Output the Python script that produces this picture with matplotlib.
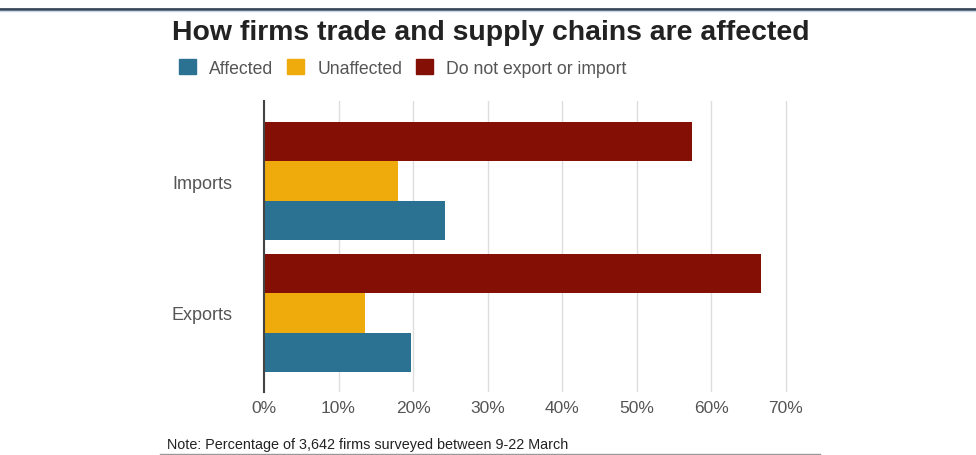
import matplotlib.pyplot as plt
from matplotlib.lines import Line2D
import numpy as np

plt.rcParams['font.family'] = ['Liberation Sans', 'DejaVu Sans']

# Données
categories = ['Exports', 'Imports']
series = ['Affected', 'Unaffected', 'Do not export or import']
affected = [19.7, 24.3]
unaffected = [13.6, 18.0]
no_trade = [66.7, 57.4]
colors = ['#2b7192', '#efab0c', '#830f05']
ticks = [0, 10, 20, 30, 40, 50, 60, 70]
tick_labels = [f'{t}%' for t in ticks]

fig = plt.figure(figsize=(9.76, 4.56), dpi=100)
ax = fig.add_axes([0.2705, 0.138, 0.542, 0.638])

y = np.arange(len(categories))
h = 0.3
for vals, off, c, lab in zip([affected, unaffected, no_trade], [-h, 0, h], colors, series):
    ax.barh(y + off, vals, height=h, color=c, label=lab, zorder=3)

ax.set_xlim(0, 71)
ax.set_ylim(-0.6, 1.606)
ax.set_xticks(ticks)
ax.set_xticklabels(tick_labels, fontsize=12.5, color='#555555')
ax.set_yticks(y)
ax.set_yticklabels(categories, fontsize=13, color='#555555')
ax.tick_params(axis='y', length=0, pad=23)
ax.tick_params(axis='x', length=0, pad=6)
ax.grid(axis='x', color='#dddddd', linewidth=1, zorder=0)
for s in ['top', 'right', 'bottom']:
    ax.spines[s].set_visible(False)
ax.spines['left'].set_color('#444444')
ax.spines['left'].set_linewidth(1.5)
ax.spines['left'].set_zorder(4)

fig.text(0.176, 0.928, 'How firms trade and supply chains are affected',
         fontsize=20.4, fontweight='bold', color='#222222', va='center')

# légende
handles = [plt.Rectangle((0, 0), 1, 1, color=c) for c in colors]
fig.legend(handles, series, loc='center left', bbox_to_anchor=(0.176, 0.849),
           ncol=3, frameon=False, fontsize=12.7, handlelength=0.95, handleheight=0.95,
           handletextpad=0.75, columnspacing=0.8, labelcolor='#555555', borderaxespad=0)

fig.text(0.171, 0.024, 'Note: Percentage of 3,642 firms surveyed between 9-22 March',
         fontsize=10.4, color='#222222', va='center')

# lignes de cadre
fig.add_artist(Line2D([0, 1], [0.979, 0.979], color='#38485a', linewidth=2))
fig.add_artist(Line2D([0, 1], [0.973, 0.973], color='#c9d9ea', linewidth=1))
fig.add_artist(Line2D([0.164, 0.84], [0.002, 0.002], color='#999999', linewidth=1))

fig.savefig('out.png', dpi=100)
